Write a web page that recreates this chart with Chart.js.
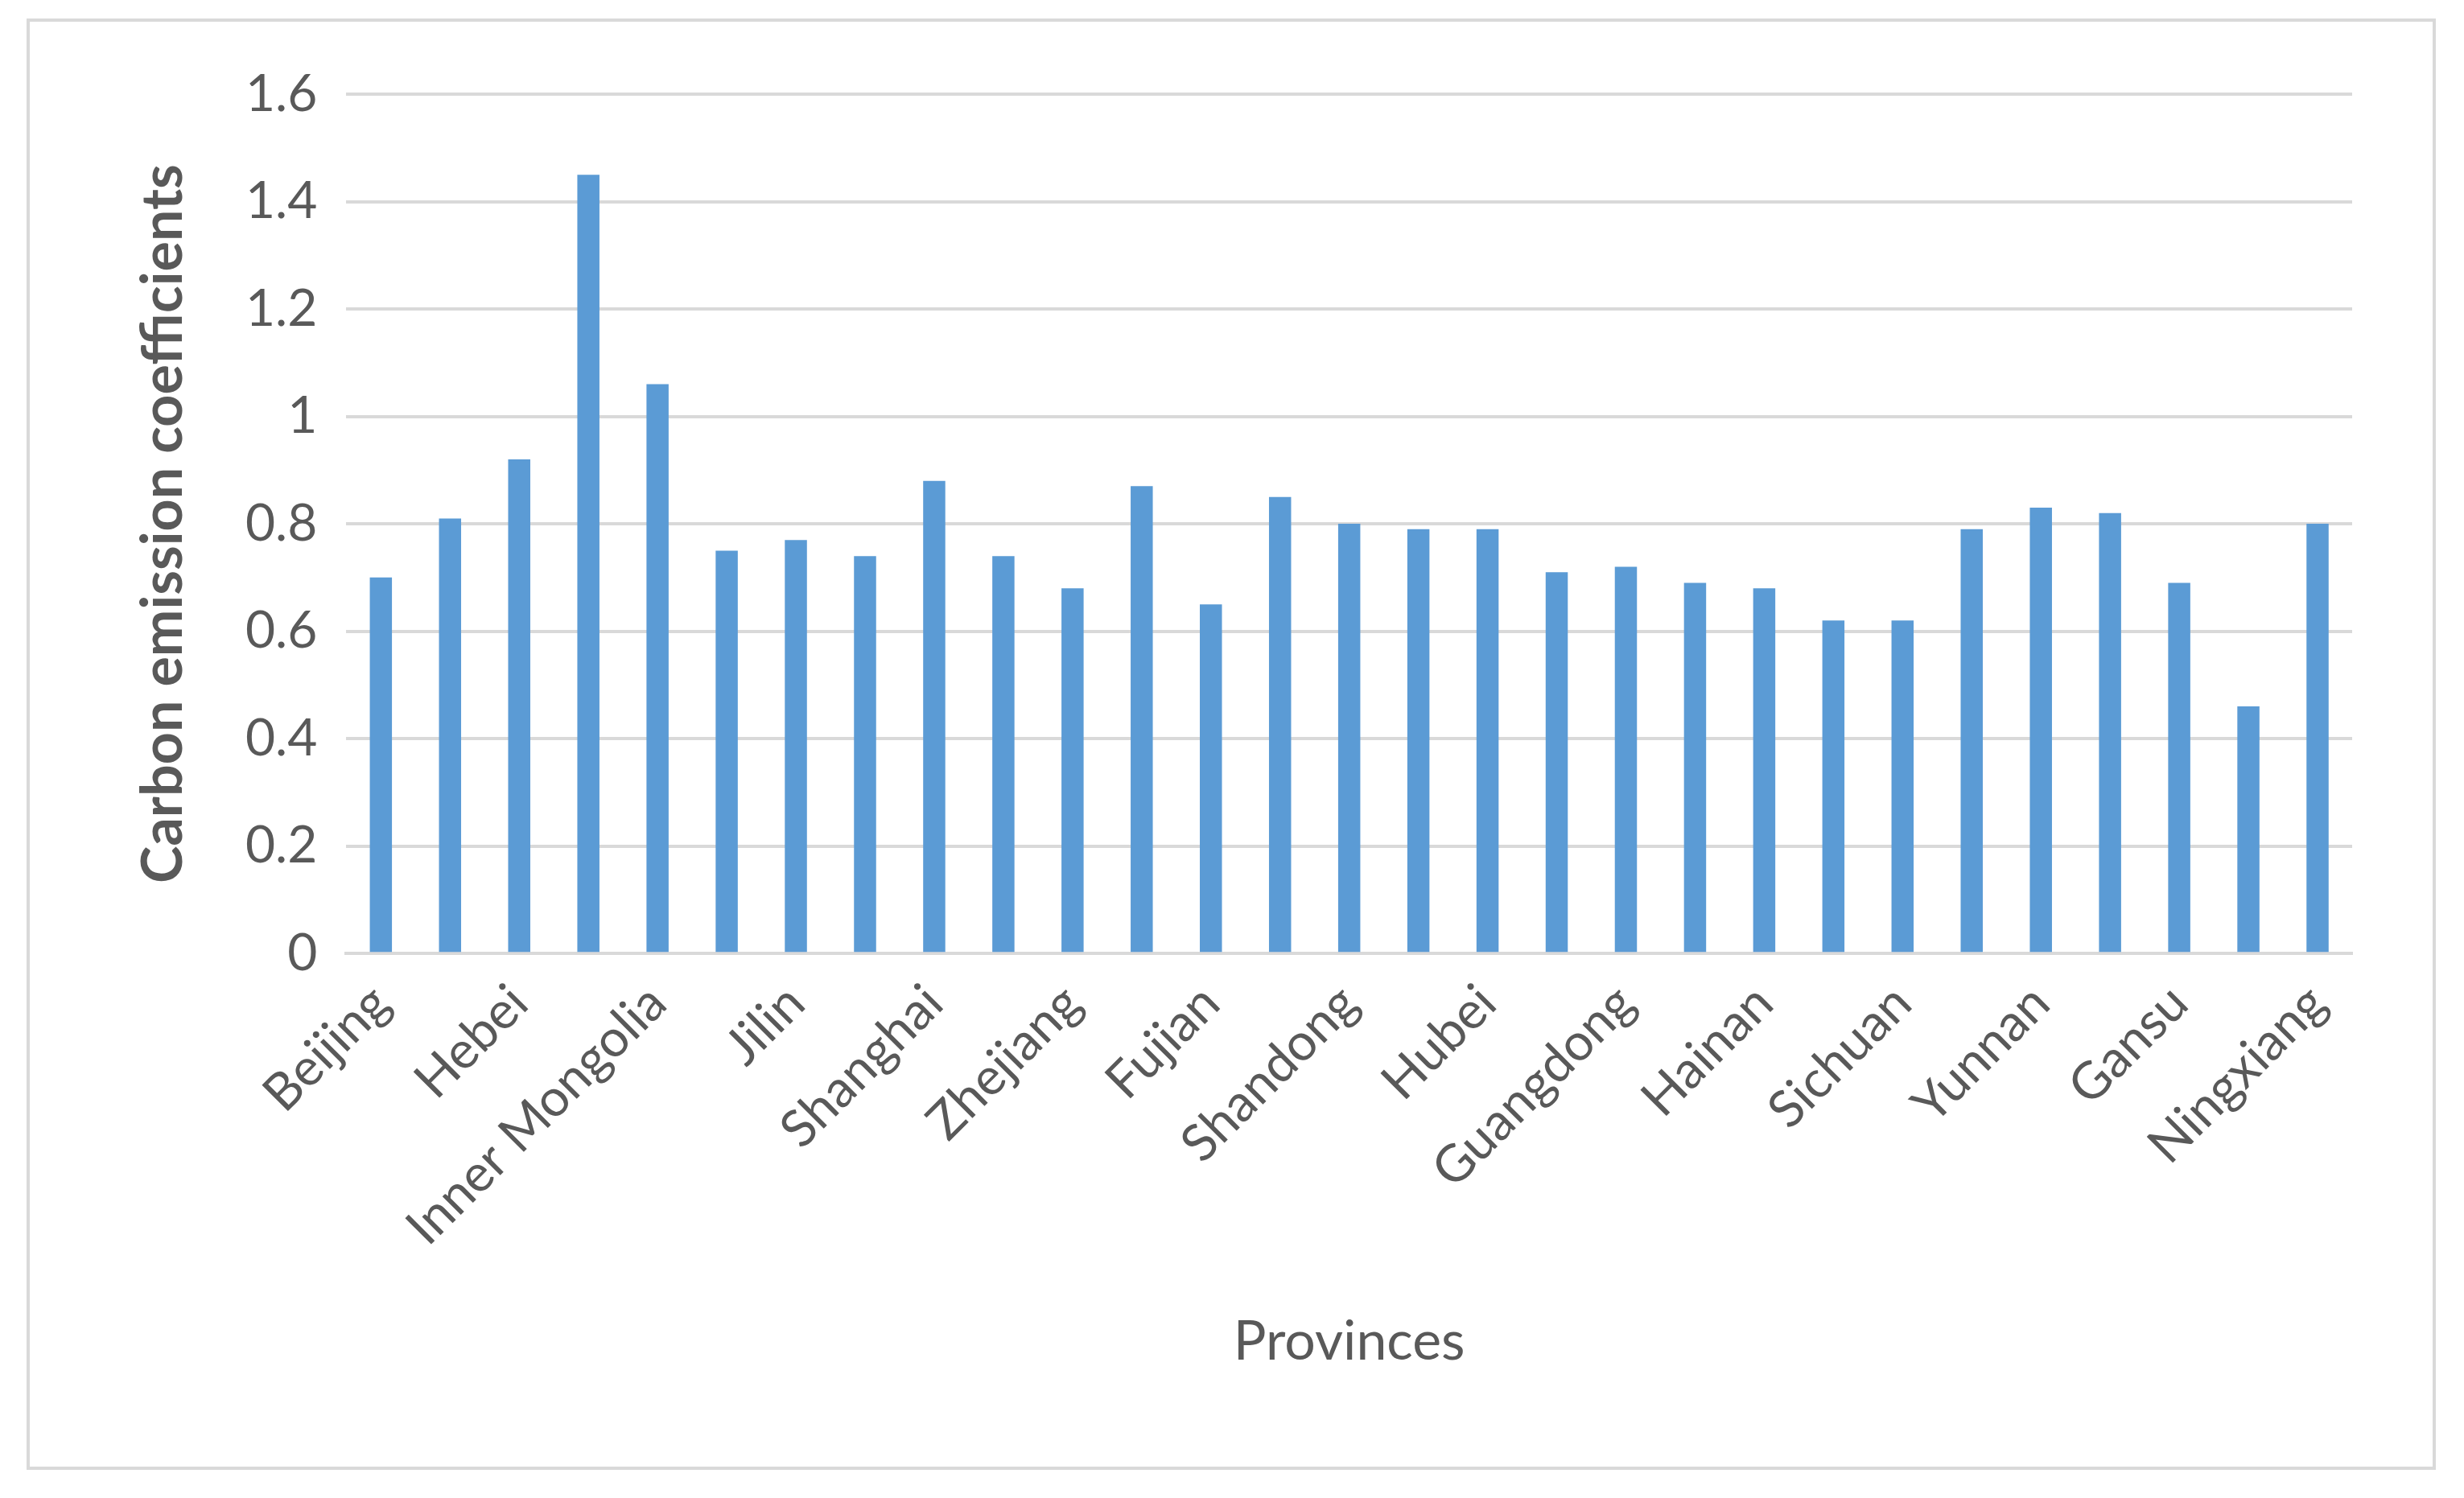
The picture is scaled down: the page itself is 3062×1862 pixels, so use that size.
<!DOCTYPE html>
<html><head><meta charset="utf-8">
<script src="https://cdn.jsdelivr.net/npm/chart.js@4"></script>
<style>
html,body{margin:0;padding:0;background:#fff;}
#box{position:absolute;left:33px;top:23px;width:2994px;height:1804px;border:4px solid #d9d9d9;box-sizing:border-box;}
#wrap{position:absolute;left:0;top:0;width:2986px;height:1796px;}
</style></head>
<body>
<div id="box"><div id="wrap"><canvas id="c"></canvas></div></div>
<script>
// provinces in the order they appear
const provinces = ['Beijing','Tianjin','Hebei','Shanxi','Inner Mongolia','Liaoning','Jilin','Heilongjiang',
  'Shanghai','Jiangsu','Zhejiang','Anhui','Fujian','Jiangxi','Shandong','Henan','Hubei','Hunan',
  'Guangdong','Guangxi','Hainan','Chongqing','Sichuan','Guizhou','Yunnan','Shaanxi','Gansu','Qinghai','Ningxiang'];
const coefficients = [0.70,0.81,0.92,1.45,1.06,0.75,0.77,0.74,0.88,0.74,0.68,0.87,0.65,0.85,0.80,0.79,0.79,0.71,0.72,0.69,0.68,0.62,0.62,0.79,0.83,0.82,0.69,0.46,0.80];
const yTicks = [0,0.2,0.4,0.6,0.8,1,1.2,1.4,1.6];

const textColor = '#595959';
const ctx = document.getElementById('c').getContext('2d');
new Chart(ctx, {
  type: 'bar',
  data: {
    labels: provinces,
    datasets: [{ data: coefficients, backgroundColor: '#5B9BD5', barPercentage: 0.32, categoryPercentage: 1 }]
  },
  options: {
    responsive: true,
    maintainAspectRatio: false,
    animation: false,
    layout: { padding: { left: 120, right: 100, top: 90, bottom: 110 } },
    plugins: { legend: { display: false }, tooltip: { enabled: false } },
    scales: {
      x: {
        grid: { display: false, drawTicks: false },
        border: { color: '#d9d9d9', width: 4 },
        ticks: {
          autoSkip: false, maxRotation: 45, minRotation: 45, padding: 24,
          color: textColor, font: { family: 'Lato', size: 64 },
          callback: (v, i) => i % 2 === 0 ? provinces[i] : ''
        },
        title: { display: true, text: 'Provinces', color: textColor, font: { family: 'Lato', size: 68 }, padding: { top: 40 } }
      },
      y: {
        min: 0, max: 1.6,
        afterBuildTicks: s => { s.ticks = yTicks.map(v => ({ value: v })); },
        grid: { color: '#d9d9d9', lineWidth: 4, drawTicks: false },
        border: { display: false },
        ticks: { padding: 36, color: textColor, font: { family: 'Lato', size: 64 }, callback: v => String(v) },
        title: { display: true, text: 'Carbon emission coefficients', color: textColor, font: { family: 'Lato', size: 70, weight: 'bold' }, padding: { bottom: 24 } }
      }
    }
  }
});
</script>
</body></html>
